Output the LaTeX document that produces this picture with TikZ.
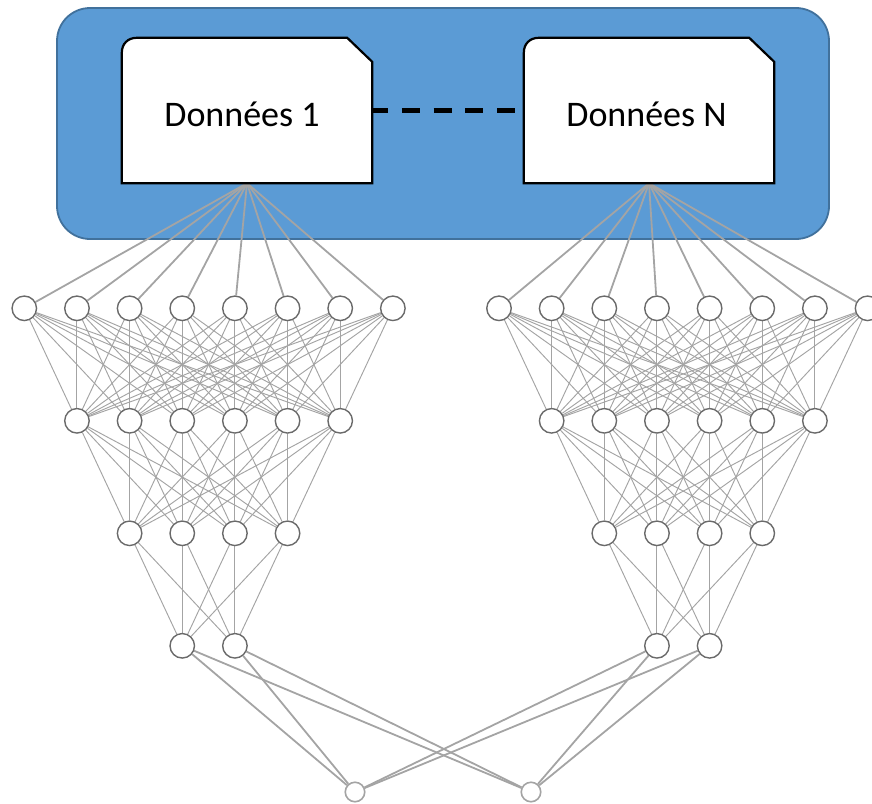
\documentclass[tikz,border=0pt]{standalone}
\usepackage{fontspec}
\setmainfont{Carlito}
\usetikzlibrary{calc}
\definecolor{panelblue}{HTML}{5B9BD5}
\definecolor{panelborder}{HTML}{41719C}
\definecolor{linkgray}{HTML}{A4A4A4}
\definecolor{ringgray}{HTML}{6A6A6A}
\pgfdeclarelayer{panellayer}
\pgfdeclarelayer{linklayer}
\pgfdeclarelayer{boxlayer}
\pgfsetlayers{panellayer,linklayer,boxlayer,main}
\tikzset{
  neuron/.style={circle, draw=ringgray, fill=white, line width=1.4pt, minimum size=24.5pt, inner sep=0pt},
  outneuron/.style={circle, draw=linkgray, fill=white, line width=1.6pt, minimum size=19.5pt, inner sep=0pt},
  link/.style={draw=linkgray, line width=0.95pt},
  feed/.style={draw=linkgray, line width=1.8pt},
  datanode/.style={minimum width=250pt, minimum height=145pt, inner sep=0pt, text height=31pt, text depth=0pt, font=\fontsize{36}{43}\selectfont},
  docshape/.style={fill=white, draw=black, line width=2.2pt},
  docshadow/.style={fill=black, opacity=0.13, draw=none},
  paneltile/.style={draw=panelborder, fill=panelblue, line width=1.8pt, rounded corners=33pt, minimum width=772pt, minimum height=231pt, inner sep=0pt},
  linkdash/.style={draw=black, line width=4.3pt, dash pattern=on 18pt off 13.7pt, dash phase=2pt},
}
\newcommand{\docpath}[1]{(#1.south west) -- ($(#1.north west)+(0,15)$) .. controls ($(#1.north west)+(0,6)$) and ($(#1.north west)+(6,0)$) .. ($(#1.north west)+(15,0)$) -- ($(#1.north east)+(-25,0)$) -- ($(#1.north east)+(0,24)$) -- (#1.south east) -- cycle}
\begin{document}
\begin{tikzpicture}[x=1pt,y=-1pt]
\useasboundingbox (0,0) rectangle (872,803);

\begin{pgfonlayer}{panellayer}
  \node[paneltile] (panel) at (443,123.5) {};
\end{pgfonlayer}

% data nodes
\node[datanode] (d1) at (247,110.5) {Données 1\hspace*{10pt}};
\node[datanode] (dN) at (649,110.5) {Données N\hspace*{5pt}};

\begin{pgfonlayer}{boxlayer}
  \foreach \s in {1,2.2,3.4,4.6,5.8}{
    \begin{scope}[shift={(\s,\s)}]
      \fill[docshadow] \docpath{d1};
      \fill[docshadow] \docpath{dN};
    \end{scope}
  }
  \draw[docshape] \docpath{d1};
  \draw[docshape] \docpath{dN};
  \draw[linkdash] (d1.east) -- (dN.west);
\end{pgfonlayer}

% neurons
\foreach \side/\xo in {L/24.3, R/499}{
  \foreach \i in {0,...,7}{\node[neuron] (\side1-\i) at ({\xo+52.65*\i},308.3) {};}
  \foreach \i in {1,...,6}{\node[neuron] (\side2-\i) at ({\xo+52.65*\i},420.8) {};}
  \foreach \i in {2,...,5}{\node[neuron] (\side3-\i) at ({\xo+52.65*\i},533.3) {};}
  \foreach \i in {3,4}{\node[neuron] (\side4-\i) at ({\xo+52.65*\i},645.8) {};}
}
\node[outneuron] (o1) at (355,792) {};
\node[outneuron] (o2) at (531,792) {};

\begin{pgfonlayer}{linklayer}
  \foreach \i in {0,...,7}{
    \draw[feed] (d1.south) -- (L1-\i);
    \draw[feed] (dN.south) -- (R1-\i);
  }
  \foreach \side in {L,R}{
    \foreach \a in {0,...,7}{\foreach \b in {1,...,6}{\draw[link] (\side1-\a) -- (\side2-\b);}}
    \foreach \a in {1,...,6}{\foreach \b in {2,...,5}{\draw[link] (\side2-\a) -- (\side3-\b);}}
    \foreach \a in {2,...,5}{\foreach \b in {3,4}{\draw[link] (\side3-\a) -- (\side4-\b);}}
    \foreach \a in {3,4}{
      \draw[feed] (\side4-\a) -- (o1);
      \draw[feed] (\side4-\a) -- (o2);
    }
  }
\end{pgfonlayer}
\end{tikzpicture}
\end{document}
